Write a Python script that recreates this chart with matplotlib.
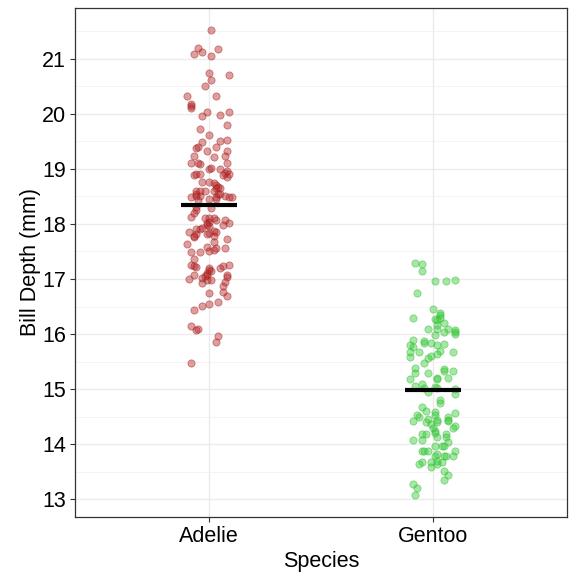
import numpy as np
import matplotlib
matplotlib.use("Agg")
from matplotlib import pyplot as plt
from matplotlib.ticker import MultipleLocator

plt.rcParams['font.family'] = ['Liberation Sans', 'DejaVu Sans']

species = ["Adelie", "Gentoo"]
means = [18.35, 14.98]

# bill depth (mm) and horizontal jitter
adelie_depth = [
    21.52, 21.20, 21.09, 21.13, 21.17, 21.05, 20.74, 20.70, 20.61, 20.50,
    20.32, 20.32, 20.17, 20.14, 20.10, 20.03, 19.96, 19.97, 20.03, 19.80,
    19.72, 19.61, 19.51, 19.53, 19.49, 19.40, 19.38, 19.40, 19.32, 19.32,
    19.24, 19.22, 19.24, 19.11, 19.11, 19.08, 19.10, 18.99, 19.01, 18.99,
    18.97, 18.92, 18.88, 18.86, 18.90, 18.89, 18.90, 18.91, 18.77, 18.77,
    18.75, 18.71, 18.67, 18.65, 18.65, 18.60, 18.60, 18.60, 18.55, 18.59,
    18.55, 18.54, 18.49, 18.51, 18.51, 18.49, 18.45, 18.51, 18.49, 18.49,
    18.45, 18.43, 18.30, 18.26, 18.29, 18.20, 18.12, 18.11, 18.11, 18.08,
    18.11, 18.08, 18.04, 18.02, 18.02, 17.98, 17.96, 17.98, 17.92, 17.90,
    17.90, 17.87, 17.85, 17.86, 17.84, 17.81, 17.81, 17.76, 17.78, 17.78,
    17.72, 17.64, 17.67, 17.56, 17.59, 17.56, 17.49, 17.49, 17.51, 17.53,
    17.36, 17.26, 17.23, 17.22, 17.20, 17.23, 17.26, 17.20, 17.16, 17.14,
    17.11, 17.08, 17.06, 17.08, 17.08, 17.03, 17.02, 16.99, 16.99, 17.00,
    16.93, 16.95, 16.88, 16.77, 16.75, 16.69, 16.59, 16.55, 16.51, 16.44,
    16.15, 16.09, 16.07, 15.96, 15.86, 15.47,
]
adelie_jit = [
    0.01, -0.05, -0.07, -0.03, 0.04, 0.01, 0.00, 0.09, 0.01, -0.02,
    -0.10, 0.03, -0.08, -0.08, -0.08, -0.01, -0.03, 0.05, 0.09, 0.08,
    -0.04, 0.00, 0.05, 0.08, -0.03, -0.05, -0.06, 0.03, -0.01, 0.08,
    -0.07, 0.02, 0.07, -0.08, -0.05, -0.04, 0.08, 0.00, 0.01, 0.05,
    0.08, 0.07, 0.06, 0.08, 0.09, -0.07, -0.06, -0.04, -0.03, 0.00,
    0.02, 0.03, 0.04, 0.05, 0.03, 0.02, -0.06, -0.04, -0.06, -0.02,
    0.04, 0.05, -0.08, -0.06, -0.04, 0.03, 0.03, 0.07, 0.09, 0.10,
    0.00, -0.05, -0.06, -0.06, 0.01, -0.07, -0.08, -0.02, 0.00, 0.07,
    0.02, 0.03, 0.00, -0.01, 0.09, -0.01, 0.00, 0.06, -0.03, -0.04,
    -0.06, 0.02, 0.03, -0.09, 0.00, -0.01, -0.06, -0.07, -0.07, 0.02,
    0.08, -0.10, 0.02, 0.03, -0.01, 0.07, -0.08, -0.04, 0.00, 0.02,
    -0.07, -0.08, -0.07, -0.06, 0.05, 0.06, 0.09, 0.00, 0.00, 0.01,
    -0.01, -0.01, -0.02, -0.07, 0.08, 0.08, -0.03, -0.01, 0.01, -0.09,
    -0.03, 0.07, 0.06, 0.06, 0.00, 0.08, 0.04, 0.00, -0.03, -0.07,
    -0.08, -0.05, -0.06, 0.04, 0.03, -0.08,
]

gentoo_depth = [
    17.30, 17.28, 17.15, 16.96, 16.96, 16.99, 16.75, 16.46, 16.39, 16.35,
    16.30, 16.30, 16.27, 16.26, 16.21, 16.16, 16.10, 16.10, 16.10, 16.07,
    16.04, 16.00, 16.03, 15.98, 15.89, 15.88, 15.84, 15.84, 15.80, 15.82,
    15.80, 15.76, 15.68, 15.70, 15.64, 15.68, 15.68, 15.60, 15.56, 15.59,
    15.47, 15.39, 15.29, 15.29, 15.37, 15.33, 15.33, 15.19, 15.21, 15.19,
    15.21, 15.05, 15.09, 15.03, 14.95, 15.04, 15.03, 15.01, 14.91, 14.81,
    14.75, 14.67, 14.54, 14.50, 14.61, 14.58, 14.54, 14.42, 14.46, 14.40,
    14.37, 14.44, 14.40, 14.50, 14.44, 14.42, 14.56, 14.34, 14.30, 14.30,
    14.25, 14.20, 14.19, 14.18, 14.19, 14.14, 14.14, 14.07, 14.07, 14.05,
    13.96, 13.96, 13.96, 13.88, 13.88, 13.87, 13.87, 13.79, 13.82, 13.79,
    13.79, 13.79, 13.67, 13.65, 13.67, 13.58, 13.65, 13.70, 13.67, 13.52,
    13.45, 13.35, 13.28, 13.21, 13.08,
]
gentoo_jit = [
    -0.08, -0.05, -0.05, 0.01, 0.06, 0.10, -0.07, 0.00, 0.03, 0.03,
    0.03, -0.09, 0.01, 0.02, 0.05, 0.02, 0.02, -0.02, 0.07, 0.10,
    0.10, 0.10, 0.05, 0.01, -0.09, -0.04, -0.04, -0.01, 0.02, 0.05,
    -0.10, -0.09, -0.10, 0.03, 0.02, -0.06, 0.09, -0.01, -0.02, -0.10,
    -0.04, -0.08, -0.08, -0.02, 0.05, 0.05, 0.09, -0.10, 0.02, 0.02,
    0.07, -0.08, -0.05, -0.04, -0.02, 0.01, 0.02, 0.10, 0.10, 0.03,
    0.03, -0.05, -0.07, -0.06, -0.03, 0.01, 0.01, -0.09, -0.02, -0.03,
    -0.01, 0.02, 0.02, 0.07, 0.07, 0.07, 0.10, 0.10, 0.09, 0.00,
    0.01, 0.01, -0.03, -0.05, 0.06, 0.06, 0.02, -0.09, -0.05, 0.07,
    0.01, 0.04, 0.05, -0.05, -0.04, -0.02, 0.10, 0.09, 0.02, 0.05,
    0.06, 0.01, -0.05, -0.06, -0.01, -0.01, 0.02, 0.02, 0.04, 0.05,
    0.07, 0.05, -0.09, -0.07, -0.08,
]

fig = plt.figure(figsize=(5.74, 5.73), dpi=100)
ax = fig.add_axes([75 / 574, 56 / 573, 492 / 574, 509 / 573])

ax.scatter(1 + np.array(adelie_jit), adelie_depth, s=27,
           facecolor=(0.72, 0.15, 0.15, 0.45), edgecolor=(0.62, 0.12, 0.12, 0.5),
           linewidth=0.6, zorder=3)
ax.scatter(2 + np.array(gentoo_jit), gentoo_depth, s=27,
           facecolor=(0.22, 0.80, 0.22, 0.45), edgecolor=(0.18, 0.72, 0.18, 0.5),
           linewidth=0.6, zorder=3)

for i, m in enumerate(means):
    ax.hlines(m, i + 1 - 0.125, i + 1 + 0.125, color='black', linewidth=3.0, zorder=4)

ax.set_xlim(0.4, 2.6)
ax.set_ylim(12.68, 21.92)
ax.set_xticks([1, 2])
ax.set_xticklabels(species)
ax.yaxis.set_major_locator(MultipleLocator(1))
ax.yaxis.set_minor_locator(MultipleLocator(0.5))

ax.grid(True, which='major', color='#EBEBEB', linewidth=1.0, zorder=0)
ax.grid(True, which='minor', axis='y', color='#F2F2F2', linewidth=0.6, zorder=0)
ax.set_axisbelow(True)

for sp in ax.spines.values():
    sp.set_color('#333333')
    sp.set_linewidth(0.9)

ax.tick_params(axis='both', which='major', length=3.5, width=0.8, color='#333333',
               labelsize=15.5, labelcolor='black', pad=3)
ax.tick_params(axis='y', which='minor', length=0)

ax.set_xlabel("Species", fontsize=15.5, labelpad=3)
ax.set_ylabel("Bill Depth (mm)", fontsize=15.5, labelpad=0.5)

plt.savefig("out.png", dpi=100)
